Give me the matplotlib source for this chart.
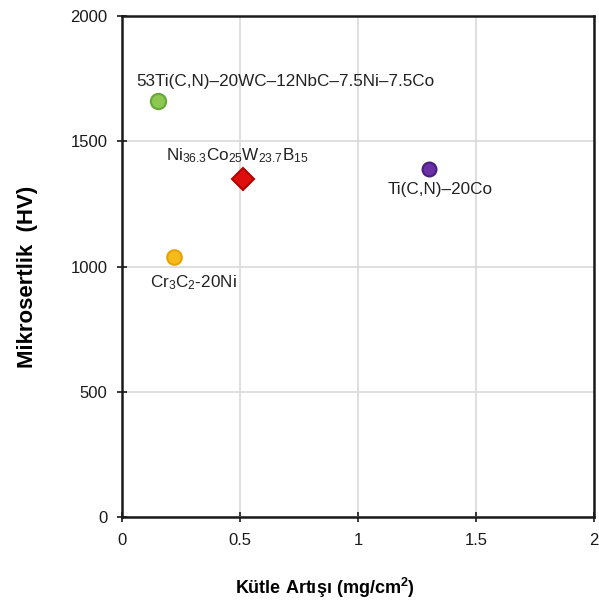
import matplotlib
matplotlib.use("Agg")
import matplotlib.pyplot as plt

plt.rcParams['font.family'] = ['Liberation Sans', 'DejaVu Sans']
plt.rcParams['mathtext.default'] = 'regular'

# Mass gain vs. microhardness of the coatings
names = ['53Ti(C,N)–20WC–12NbC–7.5Ni–7.5Co',
         r'Ni$_{36.3}$Co$_{25}$W$_{23.7}$B$_{15}$',
         'Ti(C,N)–20Co',
         r'Cr$_3$C$_2$-20Ni']
mass_gain = [0.15, 0.51, 1.30, 0.22]
hardness = [1660, 1350, 1390, 1040]
markers = ['o', 'D', 'o', 'o']
face_colors = ['#8cc751', '#e00d0d', '#6b2fa6', '#f6bb1a']
edge_colors = ['#66a838', '#b00000', '#4a1d80', '#e8a200']
sizes = [11, 11, 10, 10.5]

# label placement in points (dx, dy) and horizontal alignment
offsets = [(-15, 14), (-4, 17), (8, -15), (14, -19)]
aligns = ['left', 'center', 'center', 'center']

fig, ax = plt.subplots(figsize=(5.99, 6.12), dpi=100)
fig.subplots_adjust(left=0.204, right=0.992, top=0.974, bottom=0.155)

for n, x, y, m, fc, ec, s, off, ha in zip(names, mass_gain, hardness, markers,
                                           face_colors, edge_colors, sizes,
                                           offsets, aligns):
    ax.plot(x, y, marker=m, markersize=s, markerfacecolor=fc,
            markeredgecolor=ec, markeredgewidth=1.5, linestyle='none', zorder=3)
    ax.annotate(n, (x, y), xytext=off, textcoords='offset points',
                ha=ha, va='center', fontsize=12.3, color='#222222')

ax.set_xlim(0, 2)
ax.set_ylim(0, 2000)
ax.set_xticks([0, 0.5, 1, 1.5, 2])
ax.set_xticklabels(['0', '0.5', '1', '1.5', '2'])
ax.set_yticks([0, 500, 1000, 1500, 2000])
ax.grid(True, color='#d9d9d9', linewidth=1.2)
ax.set_axisbelow(True)

for sp in ax.spines.values():
    sp.set_linewidth(1.8)
    sp.set_color('#1a1a1a')

ax.tick_params(axis='both', direction='inout', length=7, width=1.2,
               labelsize=12, colors='#1a1a1a')
ax.tick_params(axis='y', pad=7)
ax.tick_params(axis='x', pad=8)

ax.set_xlabel('Kütle Artışı (mg/cm$^2$)', fontsize=13, fontweight='bold')
ax.set_ylabel('Mikrosertlik  (HV)', fontsize=16, fontweight='bold')
ax.xaxis.set_label_coords(0.43, -0.118)
ax.yaxis.set_label_coords(-0.178, 0.479)

fig.savefig('out.png', dpi=100)
